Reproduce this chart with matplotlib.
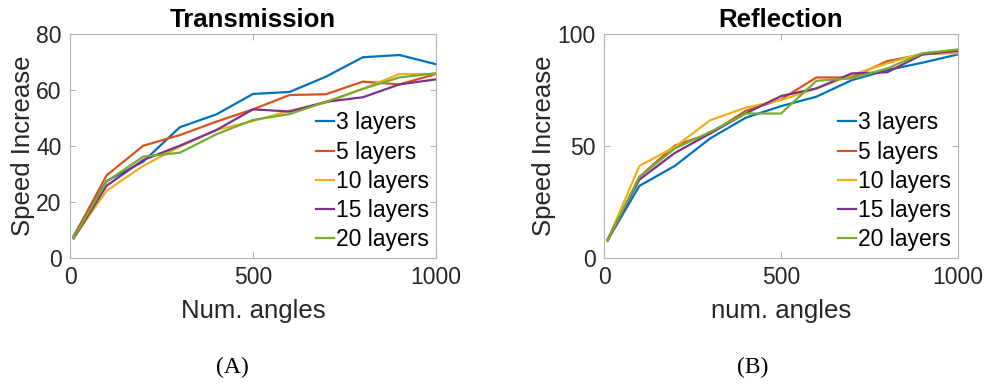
import matplotlib
matplotlib.use("Agg")
import matplotlib.pyplot as plt

plt.rcParams['font.family'] = ['Liberation Sans', 'DejaVu Sans']

angles = [10, 100, 200, 300, 400, 500, 600, 700, 800, 900, 1000]
labels = ['3 layers', '5 layers', '10 layers', '15 layers', '20 layers']
colors = ['#0072BD', '#D95319', '#EDB120', '#7E2F8E', '#77AC30']

# speed increase, transmission
trans_3 = [7.9, 27.5, 34.4, 46.7, 51.3, 58.6, 59.3, 64.8, 71.7, 72.5, 69.2]
trans_5 = [7.7, 29.5, 40.1, 43.9, 48.7, 53.1, 58.2, 58.5, 63.0, 62.0, 65.7]
trans_10 = [7.2, 24.0, 32.9, 39.8, 45.7, 48.9, 52.6, 55.5, 60.4, 65.7, 65.7]
trans_15 = [7.0, 25.8, 35.0, 40.1, 45.7, 53.1, 52.3, 55.8, 57.4, 62.0, 63.8]
trans_20 = [7.2, 27.3, 36.2, 37.6, 44.2, 49.3, 51.4, 55.8, 60.4, 64.5, 66.0]

# speed increase, reflection
refl_3 = [7.9, 32.2, 41.1, 53.4, 62.6, 67.8, 72.0, 79.4, 83.9, 87.2, 90.9]
refl_5 = [7.6, 36.2, 50.2, 55.6, 65.7, 70.8, 80.6, 80.6, 87.9, 90.9, 91.8]
refl_10 = [7.9, 41.1, 49.6, 61.5, 67.1, 70.5, 75.7, 81.7, 86.9, 91.4, 91.4]
refl_15 = [8.2, 35.0, 46.9, 55.6, 64.5, 72.3, 75.7, 82.4, 82.9, 90.9, 92.5]
refl_20 = [7.9, 36.2, 48.9, 56.3, 64.5, 64.5, 79.1, 80.2, 84.6, 91.4, 93.1]

trans = [trans_3, trans_5, trans_10, trans_15, trans_20]
refl = [refl_3, refl_5, refl_10, refl_15, refl_20]

fig = plt.figure(figsize=(9.88, 3.89), dpi=100)
ax1 = fig.add_axes([70 / 988, 1 - 258 / 389, 366 / 988, 224 / 389])
ax2 = fig.add_axes([604 / 988, 1 - 258 / 389, 354 / 988, 224 / 389])

panels = [
    (ax1, trans, 'Transmission', 'Num. angles', [0, 20, 40, 60, 80], 80),
    (ax2, refl, 'Reflection', 'num. angles', [0, 50, 100], 100),
]

for ax, series, title, xlabel, yticks, ymax in panels:
    for vals, lab, c in zip(series, labels, colors):
        ax.plot(angles, vals, color=c, lw=1.6, label=lab)
    ax.set_xlim(0, 1000)
    ax.set_ylim(0, ymax)
    ax.set_xticks([0, 500, 1000])
    ax.set_yticks(yticks)
    ax.tick_params(direction='in', top=True, right=True, length=4,
                   width=0.8, color='#b3b3b3', labelsize=16.5,
                   labelcolor='#262626', pad=6)
    for sp in ax.spines.values():
        sp.set_color('#b3b3b3')
        sp.set_linewidth(0.8)
    ax.set_title(title, fontsize=18.5, fontweight='bold', pad=5)
    ax.set_xlabel(xlabel, fontsize=18.5, color='#262626', labelpad=7)
    ax.set_ylabel('Speed Increase', fontsize=18.5, color='#262626', labelpad=1)
    ax.legend(loc='lower right', frameon=False, fontsize=16.5,
              handlelength=0.8, handletextpad=0.1, labelspacing=0.27,
              borderaxespad=0.0, borderpad=0.3)

fig.text(232 / 988, 1 - 367 / 389, '(A)', ha='center', va='center',
         fontsize=17, family='Liberation Serif')
fig.text(753 / 988, 1 - 367 / 389, '(B)', ha='center', va='center',
         fontsize=17, family='Liberation Serif')

fig.savefig('out.png', dpi=100)
